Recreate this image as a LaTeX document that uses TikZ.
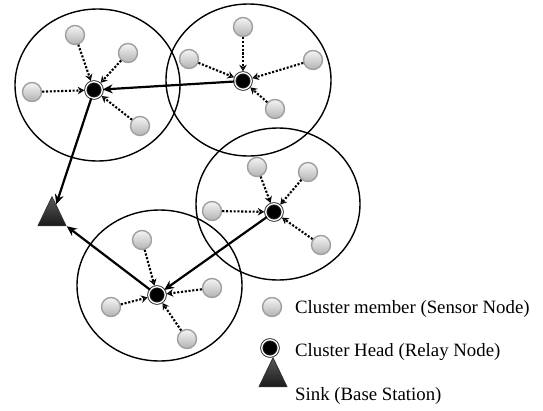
\documentclass[tikz,border=0pt]{standalone}
\usepackage{fontspec}
\setmainfont{Liberation Serif}
\usetikzlibrary{arrows.meta,shapes.geometric}
\begin{document}
\begin{tikzpicture}[x=1pt,y=-1pt,
  member/.style={circle,minimum size=19pt,inner sep=0pt,draw=gray!75,line width=1.4pt,top color=gray!8,bottom color=gray!60},
  head/.style={circle,minimum size=16.5pt,inner sep=0pt,fill=black,draw=black!85,line width=0.9pt,double=white,double distance=1.3pt},
  sinknode/.style={isosceles triangle,shape border rotate=90,isosceles triangle apex angle=52,isosceles triangle stretches,minimum width=28pt,minimum height=29pt,inner sep=0pt,draw=black!80,line width=0.9pt,top color=gray!70!black,bottom color=black!90},
  cluster/.style={line width=1.4pt},
  dotarrow/.style={line width=2.1pt,dash pattern=on 2.1pt off 1.7pt,-{Stealth[open,length=6.5pt,width=7.5pt,line width=1.1pt]},shorten >=1pt},
  relay/.style={line width=2.2pt,-{Stealth[length=10pt,width=9pt]}},
  legtext/.style={anchor=base west,inner sep=0pt,font=\fontsize{18.8}{22}\selectfont}]
\useasboundingbox (0,0) rectangle (543,410);
% clusters
\draw[cluster] (97.5,85) ellipse [x radius=82.5,y radius=76];
\draw[cluster] (248.5,80) ellipse [x radius=82.5,y radius=76];
\draw[cluster] (278,204) ellipse [x radius=82,y radius=76];
\draw[cluster] (159.5,285.5) ellipse [x radius=82.5,y radius=75.5];
% cluster heads
\node[head] (h1) at (94,90) {};
\node[head] (h2) at (243,81) {};
\node[head] (h3) at (274,212) {};
\node[head] (h4) at (157,295) {};
% sink
\node[sinknode] (sink) at (52,217) {};
% members cluster 1
\node[member] (a1) at (75,35) {};
\node[member] (a2) at (128,53) {};
\node[member] (a3) at (32,92) {};
\node[member] (a4) at (140,126) {};
% members cluster 2
\node[member] (b1) at (243,27) {};
\node[member] (b2) at (189,59) {};
\node[member] (b3) at (313,60) {};
\node[member] (b4) at (275,109) {};
% members cluster 3
\node[member] (c1) at (257,167) {};
\node[member] (c2) at (308,172) {};
\node[member] (c3) at (212,211) {};
\node[member] (c4) at (321,245) {};
% members cluster 4
\node[member] (d1) at (142,240) {};
\node[member] (d2) at (212,288) {};
\node[member] (d3) at (111,307) {};
\node[member] (d4) at (187,339) {};
% member links
\foreach \m in {a1,a2,a3,a4} \draw[dotarrow] (\m) -- (h1);
\foreach \m in {b1,b2,b3,b4} \draw[dotarrow] (\m) -- (h2);
\foreach \m in {c1,c2,c3,c4} \draw[dotarrow] (\m) -- (h3);
\foreach \m in {d1,d2,d3,d4} \draw[dotarrow] (\m) -- (h4);
% relay links
\draw[relay] (h2) -- (h1);
\draw[relay] (h1) -- (sink);
\draw[relay] (h3) -- (h4);
\draw[relay] (h4) -- (sink.right corner);
% legend
\node[member] (lm) at (272,307) {};
\node[head] (lh) at (270,348) {};
\node[sinknode] (ls) at (273,378) {};
\node[legtext] (t1) at (295,313) {Cluster member (Sensor Node)};
\node[legtext] (t2) at (295,356.5) {Cluster Head (Relay Node)};
\node[legtext] (t3) at (295,400) {Sink (Base Station)};
\end{tikzpicture}
\end{document}
